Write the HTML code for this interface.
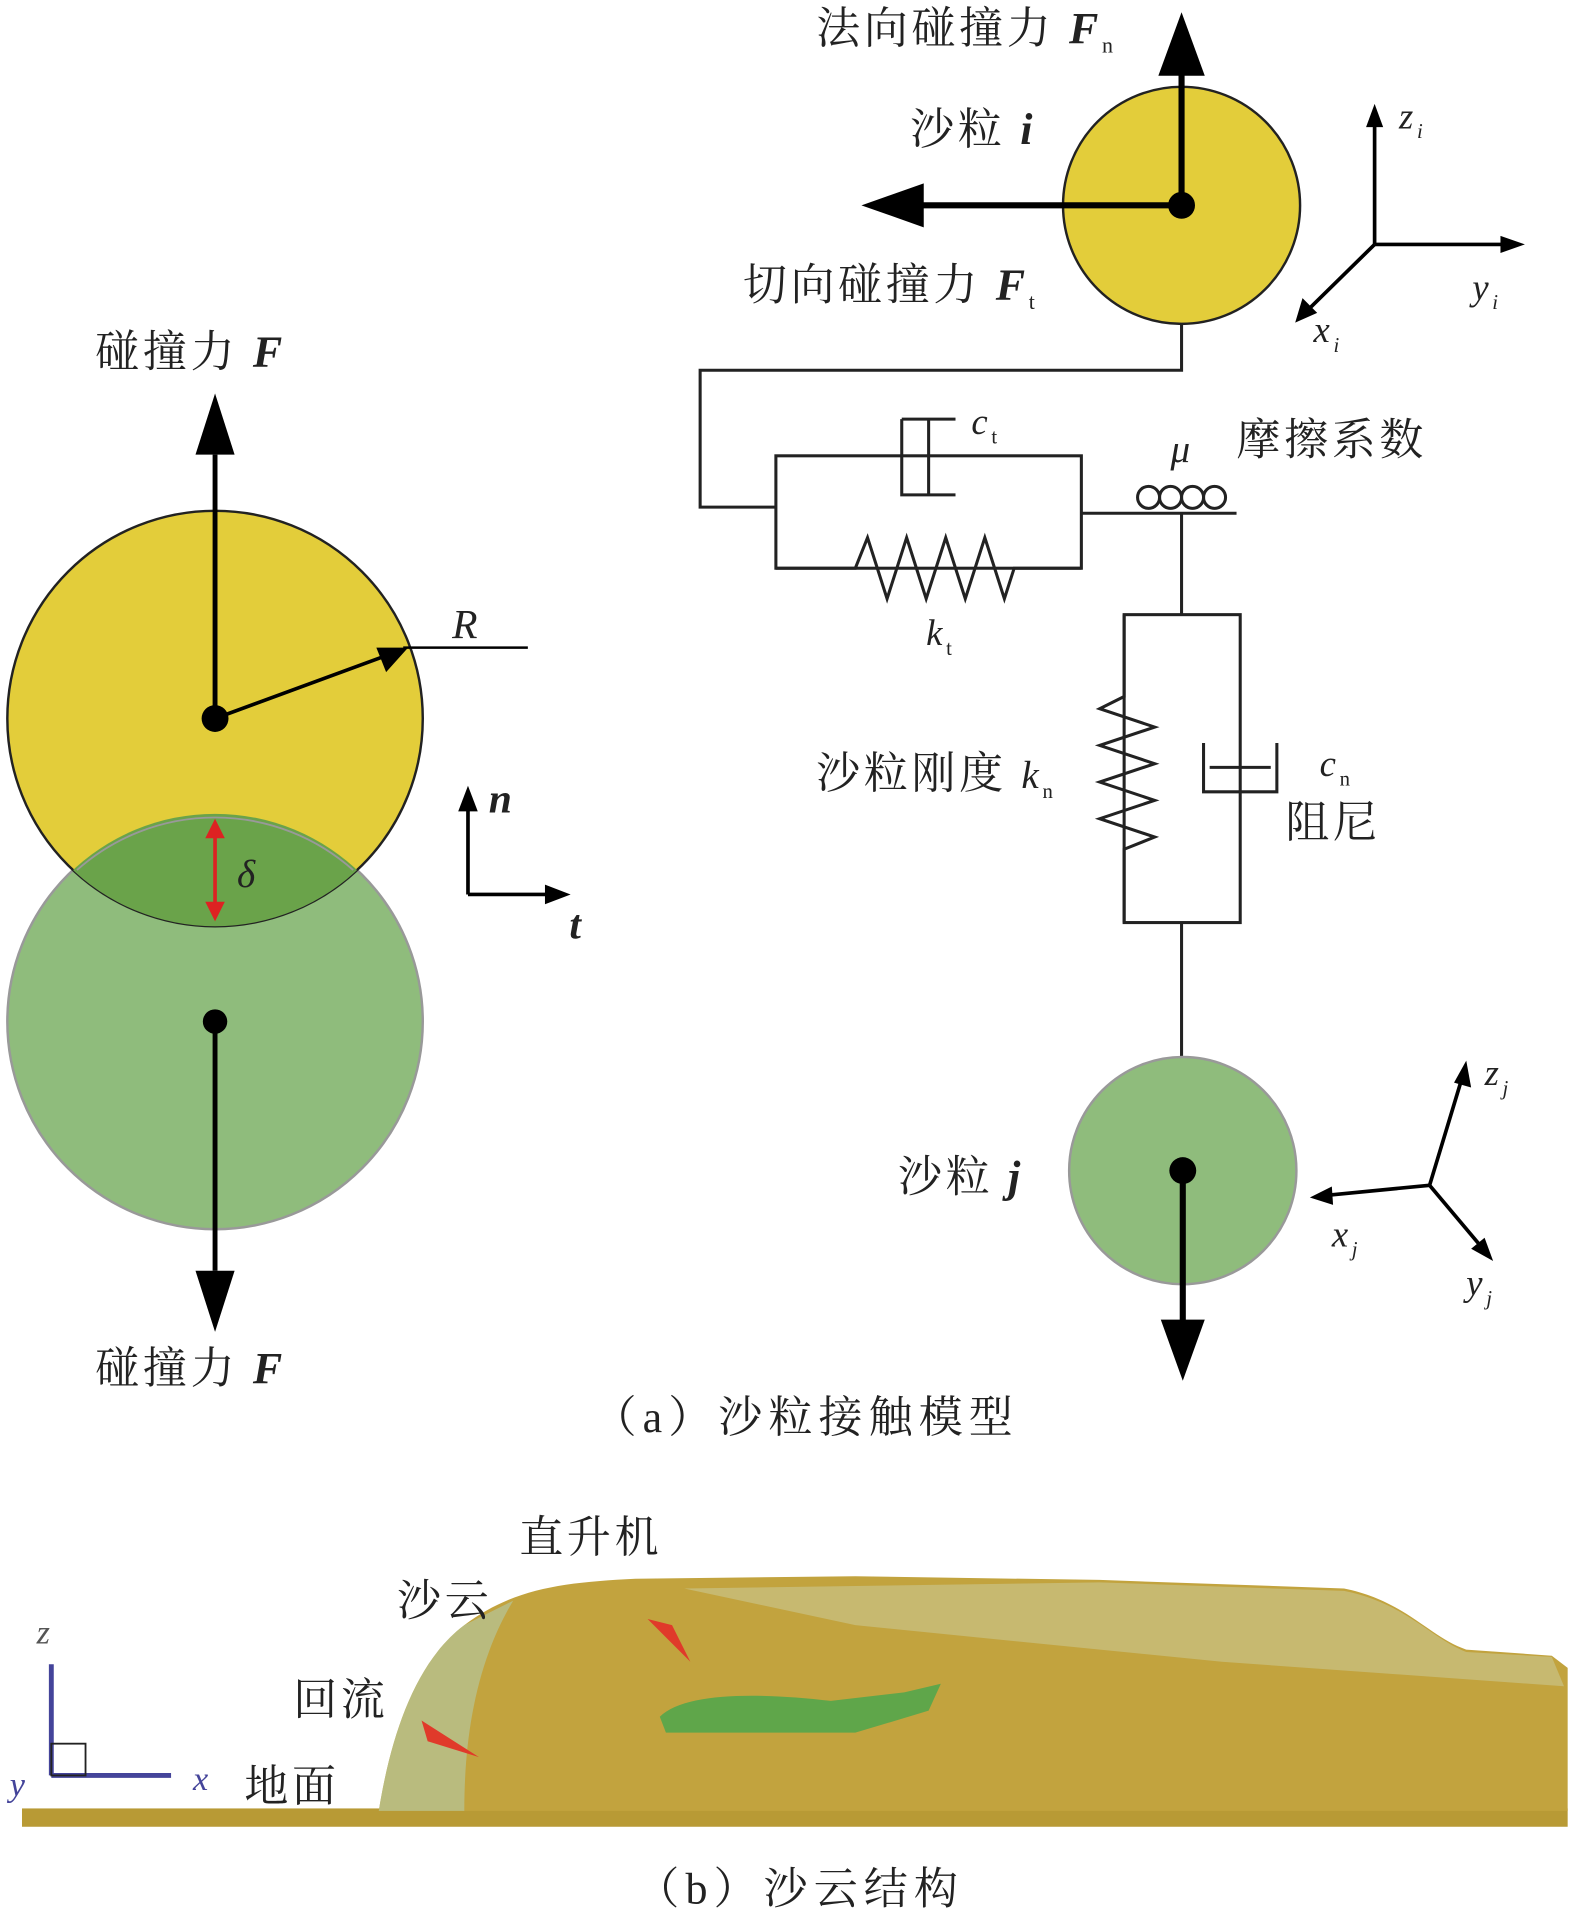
<!DOCTYPE html>
<html><head><meta charset="utf-8"><style>
html,body{margin:0;padding:0;background:#fff}
svg{display:block}
text{font-family:"Liberation Serif","Noto Serif CJK SC","Noto Sans CJK SC",serif;fill:#222;letter-spacing:3px}
.b{font-weight:bold;font-style:italic}
.i{font-style:italic}
.s{font-style:normal;letter-spacing:0}
</style></head><body>
<svg width="1575" height="1916" viewBox="0 0 1289 1568" xmlns="http://www.w3.org/2000/svg">
<defs>
<clipPath id="cy"><circle cx="176" cy="588" r="170"/></clipPath>
</defs>
<!-- left circles -->
<circle cx="176" cy="836" r="170" fill="#8fbc7c" stroke="#999" stroke-width="2"/>
<circle cx="176" cy="588" r="170" fill="#e3cd3a" stroke="#222" stroke-width="2"/>
<circle cx="176" cy="836" r="170" fill="#6aa34a" clip-path="url(#cy)"/>
<path d="M63,712 A170,170 0 0 1 289,712" fill="none" stroke="#999" stroke-width="1.5"/>
<line x1="176" y1="588" x2="176" y2="372" stroke="#000" stroke-width="4"/>
<path d="M176,322 L160,372 L192,372 Z" fill="#000"/>
<line x1="176" y1="836" x2="176" y2="1040" stroke="#000" stroke-width="4"/>
<path d="M176,1090 L160,1040 L192,1040 Z" fill="#000"/>
<circle cx="176" cy="588" r="11" fill="#000"/>
<circle cx="176" cy="836" r="10" fill="#000"/>
<line x1="176" y1="588" x2="312" y2="538" stroke="#000" stroke-width="3"/>
<path d="M334,530 L308,530 L316,550 Z" fill="#000"/>
<line x1="330" y1="530" x2="432" y2="530" stroke="#000" stroke-width="2"/>
<text x="370" y="522" font-size="34" class="i">R</text>
<line x1="176" y1="678" x2="176" y2="746" stroke="#d22" stroke-width="3"/>
<path d="M176,670 L168,686 L184,686 Z M176,754 L168,738 L184,738 Z" fill="#d22"/>
<text x="194" y="726" font-size="32" class="i">δ</text>
<line x1="383" y1="732" x2="383" y2="660" stroke="#000" stroke-width="3"/>
<path d="M383,643 L375,664 L391,664 Z" fill="#000"/>
<line x1="383" y1="732" x2="450" y2="732" stroke="#000" stroke-width="3"/>
<path d="M467,732 L446,724 L446,740 Z" fill="#000"/>
<text x="400" y="665" font-size="34" class="b">n</text>
<text x="466" y="768" font-size="34" class="b">t</text>
<text x="78" y="300" font-size="36">碰撞力 <tspan class="b">F</tspan></text>
<text x="78" y="1132" font-size="36">碰撞力 <tspan class="b">F</tspan></text>
<!-- right top particle -->
<circle cx="967" cy="168" r="97" fill="#e3cd3a" stroke="#222" stroke-width="2"/>
<line x1="967" y1="168" x2="967" y2="55" stroke="#000" stroke-width="5"/>
<path d="M967,10 L948,62 L986,62 Z" fill="#000"/>
<line x1="967" y1="168" x2="750" y2="168" stroke="#000" stroke-width="5"/>
<path d="M705,168 L756,150 L756,186 Z" fill="#000"/>
<circle cx="967" cy="168" r="11" fill="#000"/>
<text x="668" y="35" font-size="36">法向碰撞力 <tspan class="b">F</tspan><tspan class="s" font-size="18" dy="8">n</tspan></text>
<text x="745" y="118" font-size="36">沙粒 <tspan class="b">i</tspan></text>
<text x="608" y="245" font-size="36">切向碰撞力 <tspan class="b">F</tspan><tspan class="s" font-size="18" dy="8">t</tspan></text>
<line x1="1125" y1="200" x2="1125" y2="100" stroke="#000" stroke-width="3"/>
<path d="M1125,85 L1118,104 L1132,104 Z" fill="#000"/>
<line x1="1125" y1="200" x2="1232" y2="200" stroke="#000" stroke-width="3"/>
<path d="M1248,200 L1228,193 L1228,207 Z" fill="#000"/>
<line x1="1125" y1="200" x2="1070" y2="254" stroke="#000" stroke-width="3"/>
<path d="M1060,264 L1066,244 L1078,256 Z" fill="#000"/>
<text x="1145" y="105" font-size="30" class="i">z<tspan font-size="17" dy="8">i</tspan></text>
<text x="1205" y="245" font-size="30" class="i">y<tspan font-size="17" dy="8">i</tspan></text>
<text x="1075" y="280" font-size="30" class="i">x<tspan font-size="17" dy="8">i</tspan></text>
<!-- spring-damper network -->
<g fill="none" stroke="#222" stroke-width="2.5">
<polyline points="967,265 967,303 573,303 573,415 635,415"/>
<rect x="635" y="373" width="250" height="92"/>
<line x1="760" y1="343" x2="760" y2="405"/>
<polyline points="738,343 738,405 782,405"/>
<line x1="738" y1="343" x2="782" y2="343"/>
<polyline points="635,465 700,465 710,440 726,490 742,440 758,490 774,440 790,490 806,440 822,490 830,465 885,465"/>
<line x1="885" y1="420" x2="1012" y2="420"/>
<circle cx="940" cy="407" r="9"/><circle cx="958" cy="407" r="9"/><circle cx="976" cy="407" r="9"/><circle cx="994" cy="407" r="9"/>
<line x1="967" y1="420" x2="967" y2="503"/>
<rect x="920" y="503" width="95" height="252"/>
<polyline points="920,503 920,570 900,580 945,595 900,610 945,625 900,640 945,655 900,670 945,685 920,695 920,755"/>
<polyline points="985,608 985,648 1045,648 1045,608"/>
<line x1="990" y1="628" x2="1040" y2="628"/>
<line x1="967" y1="755" x2="967" y2="865"/>
</g>
<text x="795" y="355" font-size="30" class="i">c<tspan class="s" font-size="17" dy="8">t</tspan></text>
<text x="758" y="528" font-size="30" class="i">k<tspan class="s" font-size="17" dy="8">t</tspan></text>
<text x="958" y="378" font-size="32" class="i">μ</text>
<text x="1012" y="372" font-size="36">摩擦系数</text>
<text x="668" y="645" font-size="36">沙粒刚度 <tspan class="i" font-size="32">k</tspan><tspan class="s" font-size="17" dy="8">n</tspan></text>
<text x="1080" y="635" font-size="30" class="i">c<tspan class="s" font-size="17" dy="8">n</tspan></text>
<text x="1052" y="685" font-size="36">阻尼</text>
<!-- particle j -->
<circle cx="968" cy="958" r="93" fill="#8fbc7c" stroke="#999" stroke-width="2"/>
<line x1="968" y1="958" x2="968" y2="1085" stroke="#000" stroke-width="5"/>
<path d="M968,1130 L950,1080 L986,1080 Z" fill="#000"/>
<circle cx="968" cy="958" r="11" fill="#000"/>
<text x="735" y="975" font-size="36">沙粒 <tspan class="b">j</tspan></text>
<line x1="1170" y1="970" x2="1196" y2="884" stroke="#000" stroke-width="3"/>
<path d="M1200,868 L1190,886 L1204,890 Z" fill="#000"/>
<line x1="1170" y1="970" x2="1088" y2="978" stroke="#000" stroke-width="3"/>
<path d="M1072,980 L1090,971 L1091,986 Z" fill="#000"/>
<line x1="1170" y1="970" x2="1212" y2="1020" stroke="#000" stroke-width="3"/>
<path d="M1222,1032 L1204,1022 L1215,1013 Z" fill="#000"/>
<text x="1215" y="888" font-size="30" class="i">z<tspan font-size="17" dy="8">j</tspan></text>
<text x="1090" y="1020" font-size="30" class="i">x<tspan font-size="17" dy="8">j</tspan></text>
<text x="1200" y="1060" font-size="30" class="i">y<tspan font-size="17" dy="8">j</tspan></text>
<text x="485" y="1172" font-size="36" style="letter-spacing:5px">（a）沙粒接触模型</text>
<!-- bottom sand cloud -->
<rect x="18" y="1480" width="1265" height="15" fill="#b89a35"/>
<path d="M310,1482 C320,1420 340,1360 380,1330 C420,1300 460,1295 520,1292 L700,1290 L900,1293 L1100,1300 C1150,1310 1170,1340 1200,1350 L1270,1355 L1283,1365 L1283,1482 Z" fill="#c2a33e"/>
<path d="M310,1482 C320,1420 340,1360 380,1330 L420,1310 C390,1360 380,1420 380,1482 Z" fill="#b7c08f" opacity="0.8"/>
<path d="M560,1300 L900,1295 L1100,1302 C1150,1312 1170,1340 1200,1352 L1270,1356 L1280,1380 L1000,1360 L700,1330 Z" fill="#c9c892" opacity="0.6"/>
<path d="M540,1405 C560,1385 620,1385 680,1392 L740,1385 L770,1378 L760,1400 L700,1418 L545,1418 Z" fill="#5fa64a"/>
<path d="M530,1325 L565,1360 L550,1330 Z" fill="#e03a2a"/>
<path d="M345,1410 L390,1437 L360,1420 Z M345,1408 L392,1438 L350,1425 Z" fill="#e03a2a"/>
<text x="425" y="1270" font-size="36">直升机</text>
<text x="325" y="1322" font-size="36">沙云</text>
<text x="240" y="1403" font-size="36">回流</text>
<text x="200" y="1474" font-size="36">地面</text>
<line x1="42" y1="1362" x2="42" y2="1453" stroke="#44449a" stroke-width="4"/>
<line x1="42" y1="1453" x2="140" y2="1453" stroke="#44449a" stroke-width="4"/>
<rect x="42" y="1427" width="28" height="26" fill="none" stroke="#222" stroke-width="1.5"/>
<text x="30" y="1345" font-size="28" class="i" style="fill:#555">z</text>
<text x="8" y="1470" font-size="28" class="i" style="fill:#44449a">y</text>
<text x="158" y="1465" font-size="28" class="i" style="fill:#44449a">x</text>
<text x="520" y="1558" font-size="36" style="letter-spacing:5px">（b）沙云结构</text>
</svg>
</body></html>
